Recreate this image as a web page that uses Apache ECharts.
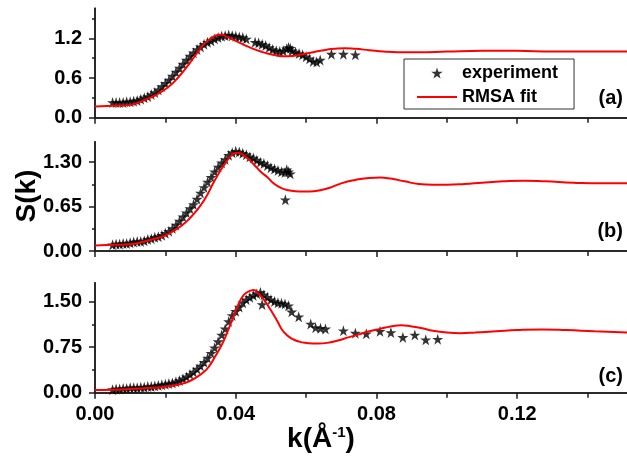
<!DOCTYPE html>
<html><head><meta charset="utf-8">
<script src="https://cdn.jsdelivr.net/npm/echarts@6/dist/echarts.min.js"></script>
<style>html,body{margin:0;padding:0;background:#fff}#c{width:627px;height:457px}</style>
</head><body><div id="c"></div>
<script>
// ---------- DATA ----------
// Panel (a)
const kExpA = [0.005,0.006,0.007,0.008,0.009,0.010,0.011,0.012,0.013,0.014,0.015,0.016,0.017,0.018,0.019,0.020,0.021,0.022,0.023,0.024,0.025,0.026,0.027,0.028,0.029,0.030,0.031,0.032,0.033,0.034,0.035,0.036,0.037,0.038,0.039,0.040,0.041,0.042,0.043,0.0455,0.0465,0.0475,0.0485,0.0495,0.0505,0.0515,0.0525,0.0535,0.0545,0.055,0.0555,0.056,0.057,0.058,0.059,0.060,0.061,0.062,0.063,0.064,0.0672,0.0706,0.0740];
const sExpA = [0.23,0.23,0.23,0.23,0.24,0.24,0.25,0.26,0.28,0.30,0.32,0.35,0.38,0.42,0.47,0.52,0.57,0.63,0.69,0.75,0.81,0.87,0.93,0.98,1.03,1.07,1.11,1.14,1.16,1.19,1.21,1.23,1.24,1.25,1.24,1.23,1.22,1.21,1.19,1.14,1.13,1.11,1.09,1.06,1.03,1.01,1.00,1.01,1.04,1.06,1.05,1.01,0.99,0.97,0.95,0.92,0.89,0.85,0.84,0.87,0.96,0.96,0.95];
const kFitA = [0,0.005,0.0094,0.012,0.0141,0.0165,0.0188,0.021,0.0235,0.026,0.0282,0.0298,0.0311,0.033,0.0348,0.036,0.0376,0.040,0.0423,0.045,0.0471,0.049,0.0508,0.053,0.055,0.057,0.059,0.062,0.065,0.068,0.071,0.074,0.078,0.082,0.086,0.092,0.100,0.110,0.120,0.130,0.140,0.152];
const sFitA = [0.17,0.18,0.19,0.22,0.27,0.32,0.39,0.47,0.60,0.76,0.92,1.03,1.12,1.20,1.25,1.255,1.22,1.16,1.10,1.04,1.00,0.97,0.95,0.93,0.93,0.94,0.96,0.99,1.02,1.04,1.05,1.04,1.02,1.00,0.99,0.99,1.00,1.01,1.01,1.00,1.00,1.00];
// Panel (b)
const kExpB = [0.005,0.006,0.007,0.008,0.009,0.010,0.011,0.012,0.013,0.014,0.015,0.016,0.017,0.018,0.019,0.020,0.021,0.022,0.023,0.024,0.025,0.026,0.027,0.028,0.029,0.030,0.031,0.032,0.033,0.034,0.035,0.036,0.037,0.038,0.039,0.040,0.041,0.042,0.043,0.044,0.045,0.046,0.047,0.048,0.049,0.050,0.051,0.052,0.053,0.054,0.0545,0.055,0.0555,0.0541];
const sExpB = [0.09,0.10,0.10,0.11,0.11,0.12,0.13,0.14,0.14,0.15,0.17,0.18,0.20,0.21,0.23,0.26,0.29,0.33,0.38,0.44,0.50,0.56,0.62,0.68,0.76,0.85,0.93,1.01,1.08,1.16,1.23,1.29,1.34,1.40,1.44,1.46,1.45,1.43,1.41,1.38,1.36,1.33,1.30,1.28,1.25,1.22,1.20,1.18,1.16,1.15,1.19,1.16,1.13,0.75];
const kFitB = [0,0.005,0.010,0.014,0.017,0.020,0.0235,0.026,0.0282,0.0311,0.0339,0.0367,0.0395,0.0405,0.0433,0.0451,0.0471,0.049,0.0508,0.053,0.055,0.058,0.061,0.064,0.067,0.070,0.074,0.078,0.081,0.084,0.088,0.092,0.096,0.100,0.105,0.110,0.116,0.122,0.128,0.136,0.144,0.152];
const sFitB = [0.08,0.09,0.10,0.14,0.18,0.23,0.33,0.43,0.55,0.75,1.02,1.26,1.43,1.44,1.36,1.27,1.16,1.08,0.99,0.92,0.89,0.87,0.87,0.89,0.93,0.99,1.04,1.07,1.075,1.06,1.02,0.98,0.97,0.97,0.98,1.00,1.02,1.03,1.02,1.00,0.99,0.99];
// Panel (c)
const kExpC = [0.005,0.006,0.007,0.008,0.009,0.010,0.011,0.012,0.013,0.014,0.015,0.016,0.017,0.018,0.019,0.020,0.021,0.022,0.023,0.024,0.025,0.026,0.027,0.028,0.029,0.030,0.031,0.032,0.033,0.034,0.035,0.036,0.037,0.038,0.039,0.040,0.041,0.042,0.043,0.044,0.045,0.046,0.047,0.0475,0.048,0.049,0.050,0.051,0.052,0.053,0.054,0.055,0.0559,0.0579,0.0613,0.0627,0.0641,0.0655,0.0706,0.0740,0.0771,0.0810,0.0841,0.0875,0.0909,0.0940,0.0974];
const sExpC = [0.05,0.06,0.06,0.07,0.07,0.08,0.08,0.08,0.09,0.09,0.10,0.10,0.11,0.12,0.13,0.14,0.15,0.16,0.18,0.20,0.23,0.26,0.30,0.34,0.39,0.44,0.50,0.57,0.65,0.74,0.84,0.95,1.05,1.17,1.27,1.34,1.41,1.48,1.53,1.57,1.60,1.63,1.65,1.45,1.61,1.57,1.53,1.50,1.48,1.47,1.46,1.43,1.33,1.25,1.13,1.07,1.06,1.05,1.02,0.98,0.97,1.01,0.99,0.91,0.95,0.87,0.88];
const kFitC = [0,0.005,0.0094,0.014,0.0188,0.0235,0.026,0.0282,0.0311,0.0325,0.0339,0.0353,0.0367,0.0386,0.0405,0.0423,0.0442,0.0452,0.0461,0.048,0.0495,0.0508,0.052,0.0531,0.0545,0.0559,0.058,0.0599,0.0635,0.066,0.069,0.072,0.075,0.078,0.081,0.084,0.087,0.090,0.093,0.096,0.100,0.104,0.108,0.114,0.120,0.127,0.134,0.142,0.152];
const sFitC = [0.045,0.05,0.06,0.075,0.09,0.13,0.17,0.23,0.35,0.44,0.57,0.71,0.87,1.14,1.42,1.61,1.68,1.69,1.65,1.53,1.40,1.28,1.16,1.04,0.95,0.89,0.84,0.82,0.81,0.82,0.86,0.91,0.96,1.01,1.05,1.09,1.11,1.09,1.06,1.02,0.99,0.98,0.99,1.01,1.03,1.04,1.03,1.01,0.99];
// Tick labels
const xMajorTicks = [0, 0.04, 0.08, 0.12];
const xMinorTicks = [0.02, 0.06, 0.10, 0.14];
const yMajorA = [0, 0.6, 1.2],   yMinorA = [0.3, 0.9, 1.5];
const yMajorB = [0, 0.65, 1.3],  yMinorB = [0.325, 0.975];
const yMajorC = [0, 0.75, 1.5],  yMinorC = [0.375, 1.125];
const panelLetters = ['(a)', '(b)', '(c)'];
const seriesNames = ['experiment', 'RMSA fit'];

// ---------- LAYOUT ----------
const FONT = '"Liberation Sans", Arial, sans-serif';
const INK = '#1c1c1c';
const X_MAX = 0.1512;
const STAR = 'path://M50,0L61.2,34.5L97.6,34.5L68.2,55.9L79.4,90.5L50,69.1L20.6,90.5L31.8,55.9L2.4,34.5L38.8,34.5Z';
const panels = [
  {top: 8.3,   height: 109.4, ymax: 1.653, major: yMajorA, minor: yMinorA, dec: 1, kE: kExpA, sE: sExpA, kF: kFitA, sF: sFitA, labelY: 98},
  {top: 141.7, height: 109.3, ymax: 1.60,  major: yMajorB, minor: yMinorB, dec: 2, kE: kExpB, sE: sExpB, kF: kFitB, sF: sFitB, labelY: 231},
  {top: 282.7, height: 110.0, ymax: 1.81,  major: yMajorC, minor: yMinorC, dec: 2, kE: kExpC, sE: sExpC, kF: kFitC, sF: sFitC, labelY: 376}
];
const pair = (ks, ss) => ks.map((k, i) => [k, ss[i]]);
const lineStyle = {color: INK, width: 1.5};
const grid = [], xAxis = [], yAxis = [], series = [];
panels.forEach((p) => grid.push({left: 95, top: p.top, width: 535.5, height: p.height}));
panels.forEach((p) => grid.push({left: 95, top: p.top, width: 535.5, height: p.height})); // minor-tick overlay
panels.forEach((p, i) => {
  const last = i === 2;
  xAxis.push({type: 'value', gridIndex: i, position: 'bottom', min: 0, max: X_MAX,
    axisLine: {show: true, lineStyle}, splitLine: {show: false},
    axisTick: {show: true, length: 6, lineStyle, customValues: xMajorTicks},
    axisLabel: {show: last, customValues: xMajorTicks, margin: 12, color: '#000',
      fontFamily: FONT, fontSize: 20, fontWeight: 'bold', formatter: v => v.toFixed(2)}});
  xAxis.push({type: 'value', gridIndex: i, position: 'top', min: 0, max: X_MAX,
    axisLine: {show: true, lineStyle}, splitLine: {show: false},
    axisTick: {show: true, inside: true, length: 5, lineStyle, customValues: xMajorTicks.concat(xMinorTicks)},
    axisLabel: {show: false}});
  yAxis.push({type: 'value', gridIndex: i, position: 'left', min: 0, max: p.ymax,
    axisLine: {show: true, lineStyle}, splitLine: {show: false},
    axisTick: {show: true, length: 6, lineStyle, customValues: p.major},
    axisLabel: {show: true, customValues: p.major, margin: 13, color: '#000',
      fontFamily: FONT, fontSize: 20, fontWeight: 'bold', formatter: v => v.toFixed(p.dec)}});
  yAxis.push({type: 'value', gridIndex: i, position: 'right', min: 0, max: p.ymax,
    axisLine: {show: true, lineStyle}, splitLine: {show: false},
    axisTick: {show: true, inside: true, length: 5, lineStyle, customValues: p.major},
    axisLabel: {show: false}});
});
panels.forEach((p, i) => {
  xAxis.push({type: 'value', gridIndex: 3 + i, position: 'bottom', min: 0, max: X_MAX,
    axisLine: {show: false}, splitLine: {show: false},
    axisTick: {show: true, length: 3, lineStyle, customValues: xMinorTicks},
    axisLabel: {show: false}});
  yAxis.push({type: 'value', gridIndex: 3 + i, position: 'left', min: 0, max: p.ymax,
    axisLine: {show: false}, splitLine: {show: false},
    axisTick: {show: true, length: 3, lineStyle, customValues: p.minor},
    axisLabel: {show: false}});
});
panels.forEach((p, i) => {
  series.push({type: 'scatter', name: seriesNames[0], xAxisIndex: 2 * i, yAxisIndex: 2 * i,
    data: pair(p.kE, p.sE), symbol: STAR, symbolSize: 11,
    itemStyle: {color: '#000'}, z: 2, silent: true});
  series.push({type: 'line', name: seriesNames[1], xAxisIndex: 2 * i, yAxisIndex: 2 * i,
    data: pair(p.kF, p.sF), symbol: 'none', showSymbol: false, smooth: 0.5,
    lineStyle: {color: '#f00', width: 2}, itemStyle: {color: '#f00'}, z: 3, silent: true});
});

const graphic = [
  {type: 'text', x: 27, y: 196, rotation: Math.PI / 2,
    style: {text: 'S(k)', fill: '#000', font: 'bold 28px ' + FONT, align: 'center', verticalAlign: 'middle'}},
  {type: 'text', x: 321, y: 439,
    style: {text: '{a|k(Å}{s|-1}{a|)}', fill: '#000', align: 'center', verticalAlign: 'middle',
      rich: {a: {fontFamily: FONT, fontSize: 28, fontWeight: 'bold', fill: '#000'},
             s: {fontFamily: FONT, fontSize: 15, fontWeight: 'bold', fill: '#000', verticalAlign: 'top'}}}}
];
panels.forEach((p, i) => {
  graphic.push({type: 'text', x: 623, y: p.labelY,
    style: {text: panelLetters[i], fill: '#000', font: 'bold 20px ' + FONT, align: 'right', verticalAlign: 'middle'}});
});

const chart = echarts.init(document.getElementById('c'), null, {renderer: 'canvas', width: 627, height: 457});
chart.setOption({
  animation: false,
  backgroundColor: '#fff',
  grid, xAxis, yAxis, series, graphic,
  legend: {
    data: [
      {name: seriesNames[0], icon: STAR, itemStyle: {color: '#000'}},
      {name: seriesNames[1], icon: 'path://M0,0L40,0L40,2L0,2Z', itemStyle: {color: '#f00', borderWidth: 0}}
    ],
    orient: 'vertical', left: 404, top: 59,
    itemWidth: 40, itemHeight: 11, itemGap: 6, padding: [5, 16, 3, 13],
    borderColor: '#333', borderWidth: 1, selectedMode: false, symbolKeepAspect: true,
    textStyle: {fontFamily: FONT, fontSize: 18, fontWeight: 'bold', color: '#000'}}
});
</script></body></html>
